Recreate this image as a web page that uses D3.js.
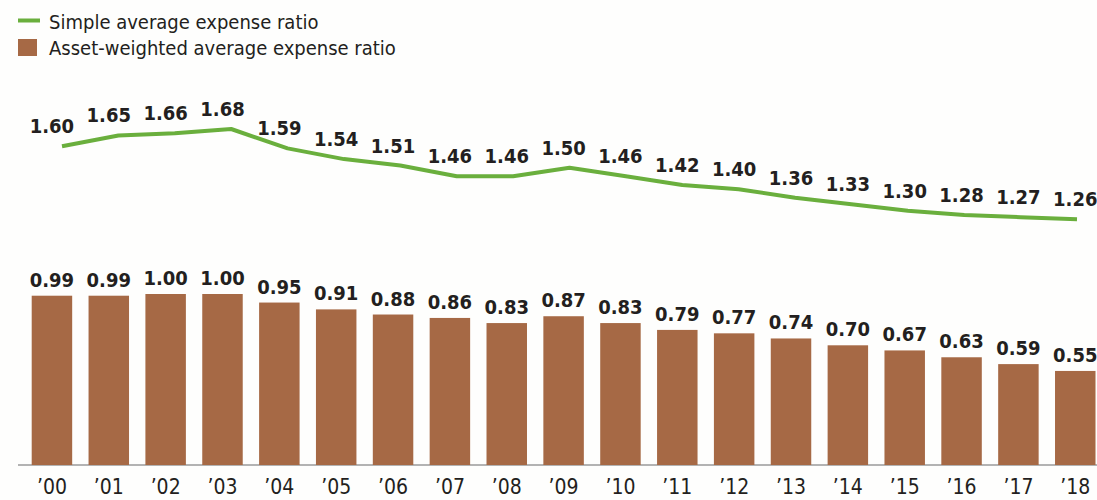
<!DOCTYPE html>
<html>
<head>
<meta charset="utf-8">
<script src="https://cdn.jsdelivr.net/npm/d3@7"></script>
<style>
  html, body { margin: 0; padding: 0; background: #fefefd; }
  svg { display: block; font-family: "DejaVu Sans Condensed", "DejaVu Sans", sans-serif; font-stretch: condensed; }
</style>
</head>
<body>
<svg id="chart" width="1097" height="500"></svg>
<script>
// Fund expense ratios by year (percent)
const years = ["’00","’01","’02","’03","’04","’05","’06","’07","’08","’09",
               "’10","’11","’12","’13","’14","’15","’16","’17","’18"];
const simpleAvg = [1.60,1.65,1.66,1.68,1.59,1.54,1.51,1.46,1.46,1.50,
                   1.46,1.42,1.40,1.36,1.33,1.30,1.28,1.27,1.26];
const assetWeighted = [0.99,0.99,1.00,1.00,0.95,0.91,0.88,0.86,0.83,0.87,
                       0.83,0.79,0.77,0.74,0.70,0.67,0.63,0.59,0.55];
const legendLabels = ["Simple average expense ratio", "Asset-weighted average expense ratio"];

const GREEN = "#6aaf3d";
const BROWN = "#a66945";
const INK = "#231f20";

const svg = d3.select("#chart");

// Bars: band scale across the plot, linear value scale from the baseline
const x = d3.scaleBand().domain(years).range([31.7, 1095.5]).paddingInner(0.288).paddingOuter(0);
const yBar = d3.scaleLinear().domain([0, 1]).range([465, 294]);

// Line sits in its own band above the bars
const xLine = d3.scalePoint().domain(years).range([62, 1077]);
const yLine = d3.scaleLinear().domain([1.26, 1.68]).range([219.3, 129]);

// Baseline axis
const axis = d3.axisBottom(x).tickSize(0).tickPadding(14);
const axisG = svg.append("g").attr("transform", "translate(0,465)").call(axis);
axisG.select(".domain").attr("stroke", "#9a9a9a").attr("stroke-width", 1.5)
  .attr("d", "M18,0H1097");
axisG.selectAll("text")
  .attr("font-family", "\"DejaVu Sans Condensed\", \"DejaVu Sans\", sans-serif")
  .attr("font-size", 21).attr("fill", INK).attr("dy", "0.71em");

// Bars
svg.append("g").selectAll("rect").data(assetWeighted).join("rect")
  .attr("x", (d, i) => x(years[i]))
  .attr("width", x.bandwidth())
  .attr("y", d => yBar(d))
  .attr("height", d => yBar(0) - yBar(d))
  .attr("fill", BROWN);

// Bar value labels
svg.append("g").selectAll("text").data(assetWeighted).join("text")
  .attr("x", (d, i) => x(years[i]) + x.bandwidth() / 2)
  .attr("y", d => yBar(d) - 9)
  .attr("text-anchor", "middle")
  .attr("font-size", 20).attr("font-weight", "bold").attr("fill", INK)
  .text(d => d.toFixed(2));

// Simple-average line
const line = d3.line().x((d, i) => xLine(years[i])).y(d => yLine(d));
svg.append("path").datum(simpleAvg)
  .attr("d", line)
  .attr("fill", "none").attr("stroke", GREEN).attr("stroke-width", 4)
  .attr("stroke-linejoin", "round");

// Line value labels, centred on each year column
svg.append("g").selectAll("text").data(simpleAvg).join("text")
  .attr("x", (d, i) => x(years[i]) + x.bandwidth() / 2)
  .attr("y", d => yLine(d) - 13)
  .attr("text-anchor", "middle")
  .attr("font-size", 20).attr("font-weight", "bold").attr("fill", INK)
  .text(d => d.toFixed(2));

// Legend
const legend = svg.append("g");
legend.append("line").attr("x1", 18).attr("x2", 40).attr("y1", 20.5).attr("y2", 20.5)
  .attr("stroke", GREEN).attr("stroke-width", 4);
legend.append("rect").attr("x", 18).attr("y", 39).attr("width", 19).attr("height", 17)
  .attr("fill", BROWN);
legend.selectAll("text.lg").data(legendLabels).join("text")
  .attr("class", "lg")
  .attr("x", 49).attr("y", (d, i) => 29 + i * 26)
  .attr("font-size", 20).attr("fill", INK)
  .text(d => d);
</script>
</body>
</html>
